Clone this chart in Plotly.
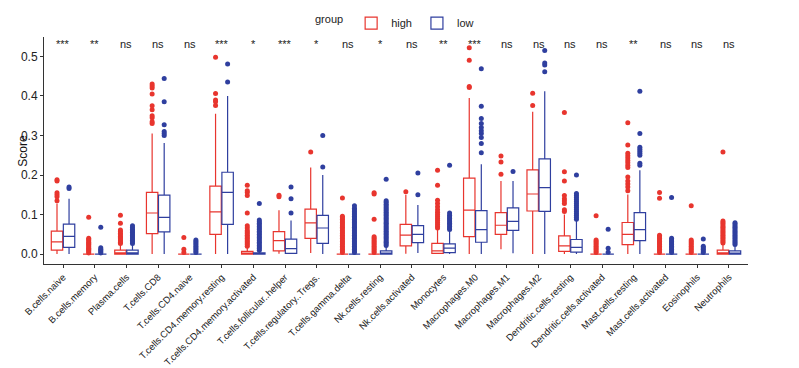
import plotly.graph_objects as go

categories = ["B.cells.naive", "B.cells.memory", "Plasma.cells", "T.cells.CD8", "T.cells.CD4.naive",
              "T.cells.CD4.memory.resting", "T.cells.CD4.memory.activated", "T.cells.follicular..helper",
              "T.cells.regulatory..Tregs.", "T.cells.gamma.delta", "Nk.cells.resting", "Nk.cells.activated",
              "Monocytes", "Macrophages.M0", "Macrophages.M1", "Macrophages.M2", "Dendritic.cells.resting",
              "Dendritic.cells.activated", "Mast.cells.resting", "Mast.cells.activated", "Eosinophils", "Neutrophils"]
signif = ["***", "**", "ns", "ns", "ns", "***", "*", "***", "*", "ns", "*", "ns",
          "**", "***", "ns", "ns", "ns", "ns", "**", "ns", "ns", "ns"]

# group "high"
high_q1 = [0.010, 0, 0, 0.052, 0, 0.050, 0, 0.008, 0.040, 0, 0, 0.021, 0.002, 0.044, 0.050, 0.109, 0.007, 0, 0.024, 0, 0, 0]
high_median = [0.031, 0, 0.003, 0.104, 0, 0.107, 0.002, 0.034, 0.079, 0, 0, 0.048, 0.008, 0.111, 0.073, 0.152, 0.021, 0, 0.050, 0, 0, 0.003]
high_q3 = [0.058, 0, 0.010, 0.156, 0, 0.172, 0.007, 0.057, 0.114, 0, 0, 0.075, 0.027, 0.192, 0.105, 0.213, 0.046, 0, 0.080, 0, 0, 0.010]
high_lower = [0, 0, 0, 0, 0, 0, 0, 0.001, 0.003, 0, 0, 0.001, 0, 0, 0.012, 0, 0, 0, 0, 0, 0, 0]
high_upper = [0.128, 0, 0.024, 0.305, 0, 0.355, 0.017, 0.111, 0.219, 0, 0, 0.150, 0.062, 0.395, 0.185, 0.360, 0.100, 0, 0.151, 0, 0, 0.025]
high_outliers = [
    [0.135, 0.145, 0.150, 0.155, 0.185, 0.188],
    [0.003, 0.006, 0.009, 0.012, 0.015, 0.018, 0.021, 0.024, 0.027, 0.030, 0.034, 0.037, 0.040, 0.093],
    [0.027, 0.030, 0.033, 0.036, 0.039, 0.042, 0.045, 0.049, 0.053, 0.057, 0.061, 0.078, 0.098],
    [0.330, 0.335, 0.345, 0.350, 0.365, 0.375, 0.405, 0.420, 0.425, 0.430],
    [0.004, 0.012, 0.042],
    [0.376, 0.385, 0.390, 0.406, 0.498],
    [0.020, 0.024, 0.028, 0.032, 0.036, 0.040, 0.044, 0.048, 0.052, 0.056, 0.060, 0.066, 0.072, 0.104, 0.148, 0.156, 0.160, 0.174],
    [0.145, 0.149],
    [0.258],
    [0.004, 0.008, 0.012, 0.016, 0.020, 0.024, 0.028, 0.032, 0.036, 0.040, 0.044, 0.048, 0.052, 0.056, 0.060,
     0.064, 0.068, 0.072, 0.076, 0.080, 0.084, 0.088, 0.092, 0.096, 0.142],
    [0.004, 0.008, 0.012, 0.016, 0.020, 0.024, 0.028, 0.032, 0.036, 0.040, 0.044, 0.088, 0.152, 0.155],
    [0.158],
    [0.066, 0.070, 0.075, 0.080, 0.085, 0.090, 0.095, 0.100, 0.106, 0.112, 0.120, 0.128, 0.136, 0.174, 0.212],
    [0.421, 0.424, 0.490, 0.522],
    [0.202, 0.233, 0.248],
    [0.376, 0.407],
    [0.108, 0.112, 0.128, 0.134, 0.140, 0.148, 0.185, 0.208, 0.358],
    [0.004, 0.008, 0.012, 0.016, 0.020, 0.024, 0.028, 0.032, 0.036, 0.097],
    [0.160, 0.170, 0.177, 0.185, 0.195, 0.219, 0.225, 0.231, 0.237, 0.243, 0.249, 0.255, 0.276, 0.332],
    [0.004, 0.008, 0.012, 0.016, 0.020, 0.024, 0.028, 0.032, 0.036, 0.040, 0.044, 0.048, 0.141, 0.156],
    [0.004, 0.008, 0.012, 0.016, 0.020, 0.024, 0.028, 0.032, 0.036, 0.122],
    [0.028, 0.032, 0.036, 0.040, 0.044, 0.048, 0.052, 0.056, 0.060, 0.064, 0.068, 0.072, 0.076, 0.080, 0.084, 0.258],
]

# group "low"
low_q1 = [0.017, 0, 0, 0.056, 0, 0.075, 0, 0.002, 0.027, 0, 0, 0.029, 0.004, 0.030, 0.060, 0.108, 0.005, 0, 0.034, 0, 0, 0]
low_median = [0.045, 0, 0.003, 0.093, 0, 0.156, 0.001, 0.014, 0.066, 0, 0.002, 0.050, 0.015, 0.062, 0.083, 0.168, 0.017, 0, 0.062, 0, 0, 0.002]
low_q3 = [0.076, 0, 0.010, 0.149, 0, 0.207, 0.003, 0.038, 0.098, 0, 0.008, 0.072, 0.026, 0.110, 0.117, 0.241, 0.037, 0, 0.105, 0, 0, 0.008]
low_lower = [0, 0, 0, 0, 0, 0, 0, 0, 0, 0, 0, 0.003, 0, 0, 0.002, 0, 0, 0, 0, 0, 0, 0]
low_upper = [0.140, 0, 0.024, 0.281, 0, 0.400, 0.007, 0.085, 0.200, 0, 0.019, 0.124, 0.058, 0.227, 0.185, 0.412, 0.084, 0, 0.212, 0, 0, 0.020]
low_outliers = [
    [0.166, 0.170],
    [0.003, 0.006, 0.009, 0.012, 0.016, 0.068],
    [0.027, 0.031, 0.035, 0.039, 0.043, 0.047, 0.051, 0.055, 0.059, 0.063, 0.067, 0.072],
    [0.300, 0.305, 0.310, 0.327, 0.385, 0.444],
    [0.004, 0.008, 0.012, 0.016, 0.020, 0.024, 0.028, 0.032, 0.036],
    [0.435, 0.481],
    [0.010, 0.014, 0.018, 0.022, 0.026, 0.030, 0.034, 0.038, 0.042, 0.046, 0.050, 0.054, 0.058, 0.062,
     0.066, 0.070, 0.074, 0.078, 0.082, 0.086, 0.128],
    [0.104, 0.140, 0.170],
    [0.220, 0.300],
    [0.004, 0.008, 0.012, 0.016, 0.020, 0.024, 0.028, 0.032, 0.036, 0.040, 0.044, 0.048, 0.052, 0.056, 0.060,
     0.064, 0.068, 0.072, 0.076, 0.080, 0.084, 0.088, 0.092, 0.096, 0.100, 0.104, 0.108, 0.112, 0.116, 0.122],
    [0.022, 0.026, 0.030, 0.034, 0.038, 0.042, 0.046, 0.050, 0.054, 0.058, 0.062, 0.066, 0.070, 0.074, 0.078,
     0.082, 0.086, 0.090, 0.094, 0.098, 0.102, 0.106, 0.110, 0.114, 0.118, 0.122, 0.126, 0.131, 0.135, 0.189],
    [0.150, 0.205],
    [0.062, 0.066, 0.070, 0.074, 0.078, 0.082, 0.086, 0.090, 0.094, 0.098, 0.104, 0.225],
    [0.256, 0.280, 0.295, 0.305, 0.312, 0.320, 0.330, 0.343, 0.374, 0.469],
    [0.209],
    [0.461, 0.478, 0.483, 0.515],
    [0.088, 0.093, 0.098, 0.103, 0.108, 0.113, 0.118, 0.123, 0.128, 0.133, 0.138, 0.143, 0.148, 0.153, 0.200],
    [0.005, 0.015, 0.063],
    [0.225, 0.230, 0.250, 0.255, 0.260, 0.265, 0.270, 0.305, 0.412],
    [0.004, 0.008, 0.012, 0.016, 0.020, 0.024, 0.028, 0.032, 0.036, 0.040, 0.143],
    [0.004, 0.008, 0.012, 0.016, 0.020, 0.038],
    [0.024, 0.028, 0.032, 0.036, 0.040, 0.044, 0.048, 0.052, 0.056, 0.060, 0.064, 0.068, 0.072, 0.076, 0.079],
]

RED = "#E8352E"
BLUE = "#2F3F9F"
FONT = "Liberation Sans, Arial, sans-serif"
DODGE = 0.19   # half the dodge distance between the two groups
BOXW = 0.36

idx = list(range(len(categories)))
fig = go.Figure()

groups = [
    ("high", RED, -DODGE, high_q1, high_median, high_q3, high_lower, high_upper, high_outliers),
    ("low", BLUE, DODGE, low_q1, low_median, low_q3, low_lower, low_upper, low_outliers),
]

# outlier points first (drawn beneath boxes)
for name, col, off, q1, med, q3, lo, hi, outl in groups:
    xs, ys = [], []
    for i, vals in enumerate(outl):
        for v in vals:
            xs.append(i + off)
            ys.append(v)
    fig.add_trace(go.Scatter(x=xs, y=ys, mode="markers", showlegend=False, hoverinfo="skip",
                             marker=dict(color=col, size=5, line=dict(width=0))))

for name, col, off, q1, med, q3, lo, hi, outl in groups:
    fig.add_trace(go.Box(
        name=name, x=[i + off for i in idx], q1=q1, median=med, q3=q3,
        lowerfence=lo, upperfence=hi, width=BOXW, boxpoints=False, whiskerwidth=0,
        line=dict(color=col, width=1.2), fillcolor="rgba(255,255,255,0)", showlegend=True,
    ))

for i, s in enumerate(signif):
    fig.add_annotation(x=i, y=0.512, xref="x", yref="y", text=s, showarrow=False,
                       yanchor="bottom", xanchor="center",
                       font=dict(family=FONT, size=11, color="#222222"))

fig.add_annotation(x=-0.031, y=0.5, xref="paper", yref="paper", text="Score", textangle=-90,
                   showarrow=False, xanchor="center", yanchor="middle",
                   font=dict(family=FONT, size=12, color="#111111"))

# the page adds an 8px body margin, so the figure is sized/margined to compensate
fig.update_layout(
    width=791, height=360,
    margin=dict(l=36, r=51, t=29, b=104, autoexpand=False),
    paper_bgcolor="white", plot_bgcolor="white",
    font=dict(family=FONT, color="#222222"),
    boxmode="overlay",
    showlegend=True,
    legend=dict(orientation="h", x=0.5, xanchor="center", y=1.125, yanchor="top",
                title=dict(text="group", side="left", font=dict(size=11, family=FONT, color="#222222")),
                font=dict(size=11, family=FONT, color="#222222"),
                itemwidth=30, tracegroupgap=0, bgcolor="rgba(0,0,0,0)", borderwidth=0),
    xaxis=dict(range=[-0.6, 21.6], tickmode="array", tickvals=idx, ticktext=categories,
               tickangle=-45, showgrid=False, zeroline=False, showline=True, linecolor="#333333",
               linewidth=1, ticks="outside", ticklen=3, tickcolor="#333333", automargin=False,
               tickfont=dict(family=FONT, size=9.5, color="#222222")),
    yaxis=dict(range=[-0.025, 0.549], tickmode="array", tickvals=[0, 0.1, 0.2, 0.3, 0.4, 0.5],
               ticktext=["0.0", "0.1", "0.2", "0.3", "0.4", "0.5"], automargin=False,
               showgrid=False, zeroline=False, showline=True, linecolor="#333333", linewidth=1,
               ticks="outside", ticklen=3, tickcolor="#333333",
               tickfont=dict(family=FONT, size=12, color="#222222")),
)

fig.write_html("out.html")
